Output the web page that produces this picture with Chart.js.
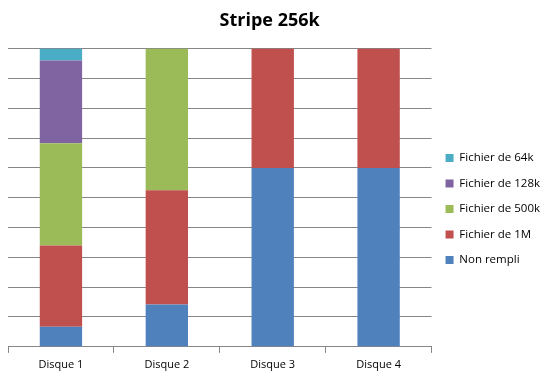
<!DOCTYPE html>
<html><head><meta charset="utf-8">
<script src="https://cdn.jsdelivr.net/npm/chart.js@4"></script>
<style>html,body{margin:0;padding:0;background:#fff}#w{width:551px;height:378px}</style>
</head><body><div id="w"><canvas id="c" width="551" height="378"></canvas></div>
<script>
const categories = ["Disque 1", "Disque 2", "Disque 3", "Disque 4"];
const nonRempli = [0.67, 1.42, 6.0, 6.0];
const fichier1M = [2.73, 3.83, 4.0, 4.0];
const fichier500k = [3.43, 4.75, 0, 0];
const fichier128k = [2.77, 0, 0, 0];
const fichier64k = [0.4, 0, 0, 0];
const font = "'Open Sans', 'Liberation Sans', sans-serif";
const gridColor = '#868686';
const mk = (label, data, color) => ({label, data, backgroundColor: color, borderWidth: 0, barPercentage: 0.4, categoryPercentage: 1.0});
new Chart(document.getElementById('c'), {
  type: 'bar',
  data: {
    labels: categories,
    datasets: [
      mk('Non rempli', nonRempli, '#4F81BD'),
      mk('Fichier de 1M', fichier1M, '#C0504D'),
      mk('Fichier de 500k', fichier500k, '#9BBB59'),
      mk('Fichier de 128k', fichier128k, '#8064A2'),
      mk('Fichier de 64k', fichier64k, '#4BACC6')
    ]
  },
  options: {
    responsive: false,
    animation: false,
    layout: {padding: {left: 8, right: 1, top: 0, bottom: 2}},
    plugins: {
      title: {display: true, text: 'Stripe 256k\u00a0\u00a0\u00a0\u00a0', color: '#000', font: {family: font, size: 18, weight: 'bold'}, padding: {top: 10, bottom: 17}},
      legend: {position: 'right', reverse: true,
        title: {display: true, text: ' ', font: {size: 10}, padding: {top: 15, bottom: 15}},
        labels: {boxWidth: 8, boxHeight: 8, padding: 14, color: '#000', font: {family: font, size: 11.5}}},
      tooltip: {enabled: false}
    },
    scales: {
      x: {stacked: true, offset: true,
        grid: {offset: true, drawOnChartArea: false, drawTicks: true, tickLength: 6, color: gridColor},
        border: {color: gridColor},
        ticks: {color: '#000', font: {family: font, size: 11}, padding: 5}},
      y: {stacked: true, min: 0, max: 10,
        ticks: {display: false, stepSize: 1},
        grid: {color: gridColor, drawTicks: false},
        border: {display: false}}
    }
  }
});
</script></body></html>
